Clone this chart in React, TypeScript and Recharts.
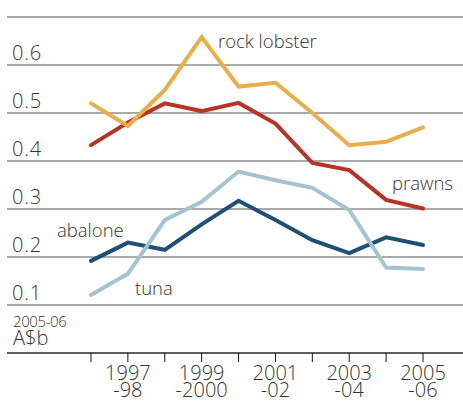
import React from "react";
import { LineChart, Line, XAxis, YAxis, CartesianGrid, Customized } from "recharts";

const years = ["1996-97", "1997-98", "1998-99", "1999-2000", "2000-01", "2001-02", "2002-03", "2003-04", "2004-05", "2005-06"];
const rockLobster = [0.52, 0.473, 0.548, 0.658, 0.555, 0.563, 0.5, 0.433, 0.44, 0.47];
const prawns = [0.433, 0.48, 0.52, 0.504, 0.521, 0.478, 0.396, 0.381, 0.319, 0.301];
const tuna = [0.121, 0.165, 0.277, 0.315, 0.378, 0.36, 0.344, 0.298, 0.178, 0.175];
const abalone = [0.192, 0.23, 0.215, 0.268, 0.317, 0.277, 0.235, 0.208, 0.241, 0.225];
const yTicks = [0, 0.1, 0.2, 0.3, 0.4, 0.5, 0.6, 0.7];
const yLabels: Record<string, string> = { "0.1": "0.1", "0.2": "0.2", "0.3": "0.3", "0.4": "0.4", "0.5": "0.5", "0.6": "0.6" };
const xLabels: Record<string, [string, string]> = {
  "1997-98": ["1997", "-98"],
  "1999-2000": ["1999", "-2000"],
  "2001-02": ["2001", "-02"],
  "2003-04": ["2003", "-04"],
  "2005-06": ["2005", "-06"],
};
const unitTop = "2005-06";
const unitBottom = "A$b";
const seriesLabels = [
  { text: "rock lobster", x: 218, y: 48 },
  { text: "prawns", x: 392, y: 190 },
  { text: "abalone", x: 57, y: 237 },
  { text: "tuna", x: 135, y: 295 },
];

const data = years.map((y, i) => ({
  year: y,
  rockLobster: rockLobster[i],
  prawns: prawns[i],
  tuna: tuna[i],
  abalone: abalone[i],
}));

const FONT = "'Open Sans', Lato, sans-serif";
const TEXT = "#333";
const FS = 18.5;
const NFS = 20;

const XTick = (props: any) => {
  const { x, y, payload } = props;
  const lab = xLabels[payload.value];
  if (!lab) return null;
  return (
    <g>
      <text x={x} y={y + 16} textAnchor="middle" fontFamily={FONT} fontWeight={300} fontSize={NFS} fill={TEXT}>{lab[0]}</text>
      <text x={x} y={y + 33} textAnchor="middle" fontFamily={FONT} fontWeight={300} fontSize={NFS} fill={TEXT}>{lab[1]}</text>
    </g>
  );
};

const YTick = (props: any) => {
  const { y, payload } = props;
  const v = Number(payload.value);
  if (v === 0) {
    return (
      <g>
        <text x={13} y={y - 26} fontFamily={FONT} fontWeight={300} fontSize={15} fill={TEXT} letterSpacing={-0.4}>{unitTop}</text>
        <text x={13} y={y - 8} fontFamily={FONT} fontWeight={300} fontSize={NFS} fill={TEXT}>{unitBottom}</text>
      </g>
    );
  }
  const lab = yLabels[v.toFixed(1)];
  if (!lab) return null;
  return (
    <text x={12} y={y - 5} fontFamily={FONT} fontWeight={300} fontSize={NFS} fill={TEXT} letterSpacing={0.8}>{lab}</text>
  );
};

const SeriesLabels = () => (
  <g>
    {seriesLabels.map((s) => (
      <text key={s.text} x={s.x} y={s.y} fontFamily={FONT} fontWeight={300} fontSize={FS} fill={TEXT}>{s.text}</text>
    ))}
  </g>
);

export default function App() {
  return (
    <div style={{ position: "absolute", left: 0, top: 0, width: 463, height: 405, background: "#fff" }}>
      <LineChart width={463} height={405} data={data} margin={{ top: 17, right: 0, left: 0, bottom: 0 }}>
        <CartesianGrid vertical={false} stroke="#555" strokeWidth={1} />
        <XAxis
          dataKey="year"
          scale="point"
          padding={{ left: 84, right: 40 }}
          height={52}
          interval={0}
          tickSize={9}
          axisLine={{ stroke: "#111" }}
          tickLine={{ stroke: "#111" }}
          tick={<XTick />}
        />
        <YAxis
          domain={[0, 0.7]}
          ticks={yTicks}
          width={7}
          axisLine={false}
          tickLine={false}
          tick={<YTick />}
          interval={0}
        />
        <Line dataKey="prawns" stroke="#B83226" strokeWidth={4} dot={false} strokeLinecap="round" isAnimationActive={false} />
        <Line dataKey="rockLobster" stroke="#E9AE4A" strokeWidth={4} dot={false} strokeLinecap="round" isAnimationActive={false} />
        <Line dataKey="abalone" stroke="#1E5075" strokeWidth={4} dot={false} strokeLinecap="round" isAnimationActive={false} />
        <Line dataKey="tuna" stroke="#A4C3D0" strokeWidth={4} dot={false} strokeLinecap="round" isAnimationActive={false} />
        <Customized component={SeriesLabels} />
      </LineChart>
    </div>
  );
}
